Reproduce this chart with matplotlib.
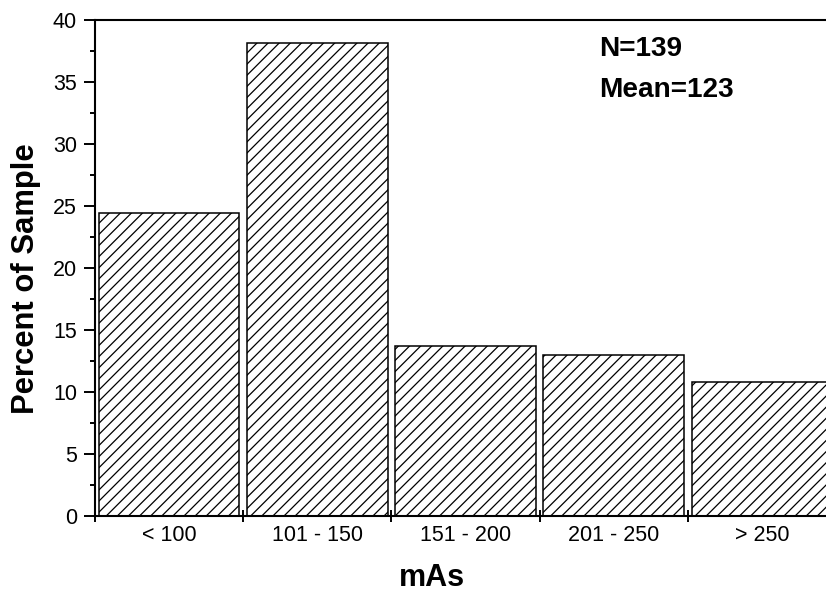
import matplotlib
matplotlib.use('Agg')
import matplotlib.pyplot as plt
from matplotlib.ticker import MultipleLocator, FixedLocator

# data (N=139)
categories = ['< 100', '101 - 150', '151 - 200', '201 - 250', '> 250']
percent = [24.46, 38.13, 13.67, 12.95, 10.79]
n_text = 'N=139'
mean_text = 'Mean=123'

plt.rcParams['font.family'] = ['Liberation Sans', 'DejaVu Sans']
plt.rcParams['hatch.linewidth'] = 0.9

fig = plt.figure(figsize=(8.26, 5.93), dpi=100)
# right edge of the axes runs just past the image, as in the reference
ax = fig.add_axes([95 / 826, 1 - 516 / 593, 741 / 826, 496 / 593])

x = [i + 0.5 for i in range(len(categories))]
ax.bar(x, percent, width=0.95, color='white', edgecolor='black',
       linewidth=1.1, hatch='///')

ax.set_xlim(0, len(categories))
ax.set_ylim(0, 40)

ax.yaxis.set_major_locator(MultipleLocator(5))
ax.yaxis.set_minor_locator(MultipleLocator(2.5))
ax.tick_params(axis='y', which='major', direction='out', length=7.9, width=1.4,
               labelsize=15.5, pad=5)
ax.tick_params(axis='y', which='minor', direction='out', length=3.7, width=1.4)

# bin edges get the ticks, category names sit in the middle of each bin
ax.xaxis.set_major_locator(FixedLocator(range(len(categories) + 1)))
ax.xaxis.set_minor_locator(FixedLocator(x))
ax.set_xticklabels([])
ax.set_xticklabels(categories, minor=True)
ax.tick_params(axis='x', which='major', direction='inout', length=9.3, width=1.4)
ax.tick_params(axis='x', which='minor', length=0, labelsize=15.5, pad=6.8)

for side in ['left', 'bottom', 'top', 'right']:
    ax.spines[side].set_linewidth(1.5)

ax.set_xlabel('mAs', fontsize=22, fontweight='bold')
ax.set_ylabel('Percent of Sample', fontsize=22.3, fontweight='bold')
ax.xaxis.set_label_coords(0.455, -0.094)
ax.yaxis.set_label_coords(-0.073, 0.479)

ax.text(0.681, 0.927, n_text, transform=ax.transAxes, fontsize=20.2,
        fontweight='bold', va='baseline', ha='left')
ax.text(0.681, 0.845, mean_text, transform=ax.transAxes, fontsize=20.2,
        fontweight='bold', va='baseline', ha='left')

fig.savefig('out.png', dpi=100)
